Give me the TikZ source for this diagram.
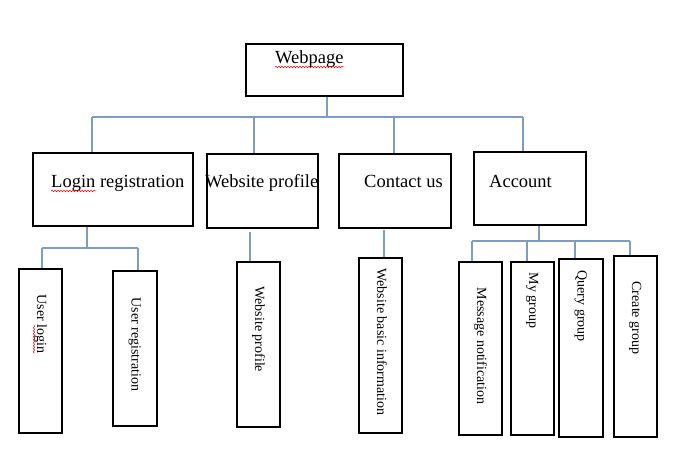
\documentclass[tikz,border=0pt]{standalone}
\usepackage{fontspec}
\setmainfont{Liberation Serif}
\usetikzlibrary{calc,fit,decorations.pathmorphing}
\definecolor{linkblue}{RGB}{124,157,196}
% section: id, top left, bottom right, text base, text
\newcommand{\topsection}[5]{
  \node[section box,fit={(#2) (#3)}] (#1) {};
  \node[section text] (#1-text) at (#4) {#5};
}
% leaf: id, top left, bottom right, text offset from top, text
\newcommand{\leaf}[5]{
  \node[item box,fit={(#2) (#3)}] (#1) {};
  \node[item text] (#1-text) at ($ (#1.north) + (0,#4) $) {#5};
}

\begin{document}
\begin{tikzpicture}[x=1pt,y=-1pt,
    section box/.style={draw,line width=2.6pt,inner sep=0pt},
    item box/.style={draw,line width=1.2pt,inner sep=0pt},
    section text/.style={anchor=base west,inner sep=0pt,font=\fontsize{18.5}{20}\selectfont},
    item text/.style={anchor=west,rotate=-90,inner sep=0pt,text height=10pt,text depth=3pt,font=\fontsize{14}{16}\selectfont},
    link/.style={draw=linkblue,line width=1.8pt},
    typo/.style={draw=red,line width=0.5pt,decorate,decoration={snake,amplitude=0.8pt,segment length=3pt}},
  ]
  \useasboundingbox (0,0) rectangle (692,470);

  \topsection{webpage}{246,44}{403,96}{275,64}{Webpage}
  \topsection{login}{33,153}{193,226}{51,188}{Login registration}
  \topsection{website}{207,154}{318,228}{205,188}{Website profile}
  \topsection{contact}{339,154}{451,228}{364,188}{Contact us}
  \topsection{account}{474,152}{586,225}{489,188}{Account}

  \leaf{user-login}{19,269}{62,433}{26}{User login}
  \leaf{user-registration}{113,271}{157,426}{27}{User registration}
  \leaf{website-item}{237,262}{280,427}{25}{Website profile}
  \leaf{website-basic}{359,258}{402,433}{11}{Website basic information}
  \leaf{message}{459,262}{502,435}{26}{Message notification}
  \leaf{my-group}{511,262}{554,435}{11}{My group}
  \leaf{query-group}{559,259}{603,437}{12}{Query group}
  \leaf{create-group}{614,256}{657,437}{26}{Create group}

  % top level
  \coordinate (j-web) at (327,117);
  \draw[link] (j-web |- webpage.south) -- (j-web);
  \foreach \x/\m in {92/login,254/website,394/contact,523/account} {
    \coordinate (j-\m) at (\x,117);
    \draw[link] (j-\m) -- (j-\m |- \m.north);
  }
  \draw[link] (j-login) -- (j-account);

  % login registration
  \coordinate (k-login) at (87,248);
  \draw[link] (k-login |- login.south) -- (k-login);
  \foreach \x/\m in {42/user-login,138/user-registration} {
    \coordinate (k-\m) at (\x,248);
    \draw[link] (k-\m) -- (k-\m |- \m.north);
  }
  \draw[link] (k-user-login) -- (k-user-registration);

  % website profile, contact us
  \coordinate (k-website) at (250,232);
  \draw[link] (k-website) -- (k-website |- website-item.north);
  \coordinate (k-contact) at (384,230);
  \draw[link] (k-contact) -- (k-contact |- website-basic.north);

  % account
  \coordinate (k-account) at (539,241);
  \draw[link] (k-account |- account.south) -- (k-account);
  \foreach \x/\m in {472/message,527/my-group,575/query-group,630/create-group} {
    \coordinate (k-\m) at (\x,241);
    \draw[link] (k-\m) -- (k-\m |- \m.north);
  }
  \draw[link] (k-message) -- (k-create-group);

  % spelling marks
  \draw[typo] ($ (webpage-text.base west) + (0,3) $) -- ($ (webpage-text.base east) + (0,3) $);
  \draw[typo] ($ (login-text.base west) + (0,3) $) -- +(45,0);
  \draw[typo] ($ (user-login-text.base west) + (-3,31) $) -- +(0,28);
\end{tikzpicture}
\end{document}
